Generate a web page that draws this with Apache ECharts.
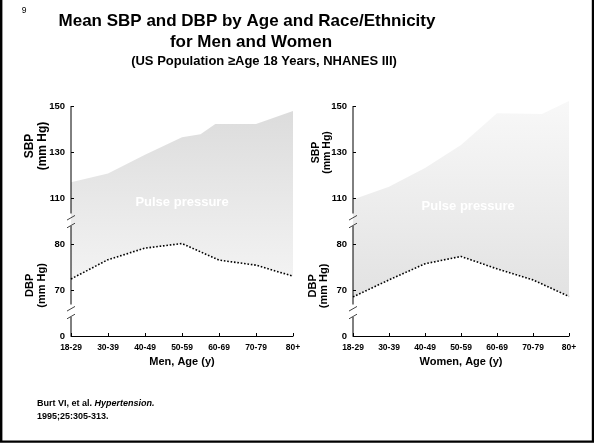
<!DOCTYPE html>
<html><head><meta charset="utf-8">
<script src="https://cdn.jsdelivr.net/npm/echarts@6/dist/echarts.min.js"></script>
<style>html,body{margin:0;padding:0;background:#fff}#c{width:594px;height:444px}</style>
</head><body><div id="c"></div>
<script>
// ---- data ----
const ageGroups = ['18-29','30-39','40-49','50-59','60-69','70-79','80+'];
// SBP upper edge of the pulse-pressure band: [age-group position, mm Hg]
const menSBP = [[0,116.8],[1,120.7],[2,128.8],[3,136.4],[3.5,137.7],[3.9,142.2],[5,142.2],[6,147.8]];
const womenSBP = [[0,109.4],[1,114.9],[2,123],[3,133],[4,146.8],[5.25,146.5],[6,152.2]];
// DBP (mm Hg) per age group
const menDBP = [72.4,76.6,79.1,80.1,76.5,75.4,73.0];
const womenDBP = [68.5,72.2,75.7,77.3,74.6,72.2,68.6];
const sbpTicks = [110,130,150];
const dbpTicks = [70,80];
const zeroTick = [0];

const FF = '"Liberation Sans", Arial, Helvetica, sans-serif';
const chart = echarts.init(document.getElementById('c'), null, {renderer:'canvas'});

function yAx(grid, min, max, ticks, showTick){
  return {type:'value', gridIndex:grid, min:min, max:max, position:'left', z:10,
    axisLine:{show:false}, splitLine:{show:false},
    axisTick:{show:showTick, inside:true, length:3, customValues:ticks, lineStyle:{color:'#000', width:1}},
    axisLabel:{customValues:ticks, color:'#000', fontWeight:'bold', fontSize:9.5, margin:6, fontFamily:FF}};
}
function xAx(grid, name){
  return {type:'value', gridIndex:grid, min:0, max:6, interval:1, z:10,
    axisLine:{show:true, onZero:false, lineStyle:{color:'#000', width:1}},
    axisTick:{show:true, inside:true, length:3, lineStyle:{color:'#000', width:1}},
    splitLine:{show:false},
    axisLabel:{formatter:function(v){return ageGroups[v] || '';}, color:'#000', fontWeight:'bold', fontSize:8.5, margin:7, fontFamily:FF, showMinLabel:true, showMaxLabel:true},
    name:name, nameLocation:'middle', nameGap:17,
    nameTextStyle:{color:'#000', fontWeight:'bold', fontSize:11, fontFamily:FF, verticalAlign:'top'}};
}
function pairs(arr){ return arr.map(function(v,i){return [i,v];}); }

const menGrad = new echarts.graphic.LinearGradient(0,0,0,1,[
  {offset:0, color:'#dcdcdc'},{offset:0.75, color:'#f3f3f3'},{offset:1, color:'#f6f6f6'}]);
const womenGrad = new echarts.graphic.LinearGradient(0,0,0,1,[
  {offset:0, color:'#f8f8f8'},{offset:0.8, color:'#e3e3e3'},{offset:1, color:'#e0e0e0'}]);

function sbpSeries(xi, yi, data, grad){
  return {type:'line', xAxisIndex:xi, yAxisIndex:yi, data:data, symbol:'none', silent:true,
    lineStyle:{width:0, color:'rgba(0,0,0,0)'}, areaStyle:{origin:'start', opacity:1, color:grad}, z:1};
}
function dbpSeries(xi, yi, data){
  return {type:'line', xAxisIndex:xi, yAxisIndex:yi, data:pairs(data), symbol:'none', silent:true,
    lineStyle:{color:'#000', width:1.6, type:[1.6,1.8]}, areaStyle:{origin:'start', opacity:1, color:'#fff'}, z:2};
}

const option = {
  animation:false,
  backgroundColor:'#fff',
  grid:[
    {left:71, top:83, width:222, height:253},
    {left:353, top:83, width:216, height:253}
  ],
  xAxis:[xAx(0,'Men, Age (y)'), xAx(1,'Women, Age (y)')],
  yAxis:[
    yAx(0,50,160,sbpTicks,true), yAx(0,60,115,dbpTicks,true), yAx(0,0,100,zeroTick,false),
    yAx(1,50,160,sbpTicks,true), yAx(1,60,115,dbpTicks,true), yAx(1,0,100,zeroTick,false)
  ],
  series:[
    sbpSeries(0,0,menSBP,menGrad), dbpSeries(0,1,menDBP),
    sbpSeries(1,3,womenSBP,womenGrad), dbpSeries(1,4,womenDBP)
  ]
};
chart.setOption(option);

function P(xi, yi, x, y){ return chart.convertToPixel({xAxisIndex:xi, yAxisIndex:yi}, [x,y]); }
const g = [];
function txt(x, y, text, font, extra){
  const o = {type:'text', x:x, y:y, z:100, style:Object.assign({text:text, fill:'#000', font:font, align:'center', verticalAlign:'middle'}, extra||{})};
  g.push(o); return o;
}
function line(x1,y1,x2,y2,color,w){
  g.push({type:'line', z:100, shape:{x1:x1,y1:y1,x2:x2,y2:y2}, style:{stroke:color, lineWidth:w}});
}
// broken y-axis lines + titles for each panel
const panels = [
  {xi:0, s:0, d:1, zz:2, sbpT:{v:132.6, dx:-35, size:12, lh:12.5}, dbpT:{v:71, dx:-35.5, size:11, lh:12}, pp:[3,108]},
  {xi:1, s:3, d:4, zz:5, sbpT:{v:129.8, dx:-31.6, size:10.5, lh:10.5}, dbpT:{v:70.9, dx:-34.8, size:11, lh:11}, pp:[3.2,106.5]}
];
panels.forEach(function(p){
  const topP = P(p.xi,p.s,0,150);
  const ax = topP[0];
  const y110 = P(p.xi,p.s,0,110)[1], y80 = P(p.xi,p.d,0,80)[1], y70 = P(p.xi,p.d,0,70)[1], y0 = P(p.xi,p.zz,0,0)[1];
  const c1 = (y110+y80)/2 + 1, c2 = (y70+y0)/2;
  line(ax, topP[1], ax, c1-8.5, '#000', 1);
  line(ax, c1+4, ax, c2-8.5, '#000', 1);
  line(ax, c2+4, ax, y0, '#000', 1);
  [c1-4.25, c1+3.5, c2-4.25, c2+3.5].forEach(function(cy){ line(ax-4, cy+2.3, ax+4, cy-2.3, '#444', 1); });
  const sy = P(p.xi,p.s,0,p.sbpT.v)[1];
  const t1 = txt(ax+p.sbpT.dx, sy, 'SBP\n(mm Hg)', 'bold '+p.sbpT.size+'px '+FF, {lineHeight:p.sbpT.lh});
  t1.rotation = Math.PI/2;
  const dy = P(p.xi,p.d,0,p.dbpT.v)[1];
  const t2 = txt(ax+p.dbpT.dx, dy, 'DBP\n(mm Hg)', 'bold '+p.dbpT.size+'px '+FF, {lineHeight:p.dbpT.lh});
  t2.rotation = Math.PI/2;
  const pp = P(p.xi,p.s,p.pp[0],p.pp[1]);
  txt(pp[0], pp[1], 'Pulse pressure', 'bold 13px '+FF, {fill:'#fff'});
});
// titles
txt(247, 21.5, 'Mean SBP and DBP by Age and Race/Ethnicity', 'bold 17px '+FF);
txt(251, 42.5, 'for Men and Women', 'bold 17px '+FF);
txt(264, 61, '(US Population \u2265Age 18 Years, NHANES III)', 'bold 13px '+FF);
txt(24, 10.5, '9', '8.5px '+FF);
// reference
g.push({type:'text', x:37, y:404, z:100, style:{
  text:'{b|Burt VI, et al. }{i|Hypertension.}', verticalAlign:'middle', align:'left',
  rich:{b:{font:'bold 9px '+FF, fill:'#000'}, i:{font:'italic bold 9px '+FF, fill:'#000'}}}});
txt(37, 417, '1995;25:305-313.', 'bold 9px '+FF, {align:'left'});
// frame
g.push({type:'rect', z:100, shape:{x:1.2, y:-10, width:591.8, height:451.6}, style:{fill:null, stroke:'#000', lineWidth:2.4}});

chart.setOption({graphic:g});
</script>
</body></html>
